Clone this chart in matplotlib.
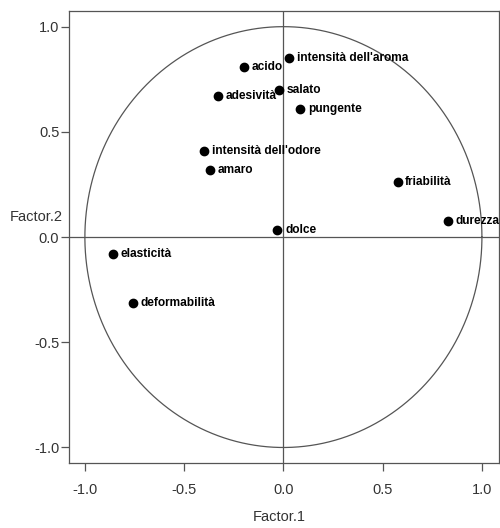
import numpy as np
import matplotlib
matplotlib.use("Agg")
import matplotlib.pyplot as plt

plt.rcParams['font.family'] = ['Liberation Sans', 'DejaVu Sans']

# loadings
labels = ["acido", "intensità dell'aroma", "salato", "adesività", "pungente",
          "intensità dell'odore", "amaro", "friabilità", "durezza", "dolce",
          "elasticità", "deformabilità"]
factor1 = [-0.20, 0.03, -0.02, -0.33, 0.085, -0.40, -0.37, 0.575, 0.83, -0.03,
           -0.86, -0.76]
factor2 = [0.81, 0.85, 0.70, 0.67, 0.61, 0.41, 0.32, 0.26, 0.075, 0.035,
           -0.08, -0.315]
ticks = [-1.0, -0.5, 0.0, 0.5, 1.0]

fig = plt.figure(figsize=(5.0, 5.28), dpi=100)
ax = fig.add_axes([0.138, 0.123, 0.860, 0.856])

line_col = '#555555'

# unit circle
t = np.linspace(0, 2 * np.pi, 400)
ax.plot(np.cos(t), np.sin(t), color=line_col, lw=0.9)
ax.axhline(0, color=line_col, lw=0.9)
ax.axvline(0, color=line_col, lw=0.9)

ax.scatter(factor1, factor2, s=36, color='black', zorder=3)
for x, y, lab in zip(factor1, factor2, labels):
    ax.annotate(lab, (x, y), xytext=(5.5, 0), textcoords='offset points',
                va='center', ha='left', fontsize=8.6, fontweight='bold',
                annotation_clip=False)

ax.set_xlim(-1.08, 1.086)
ax.set_ylim(-1.074, 1.074)
ax.set_xticks(ticks)
ax.set_yticks(ticks)
ax.set_xticklabels(["%.1f" % v for v in ticks])
ax.set_yticklabels(["%.1f" % v for v in ticks])
ax.tick_params(axis='both', colors=line_col, labelcolor='#333333',
               labelsize=10.5, length=6, width=0.9)
ax.tick_params(axis='x', pad=8)
ax.tick_params(axis='y', pad=1)

for sp in ax.spines.values():
    sp.set_color(line_col)
    sp.set_linewidth(0.9)

ax.set_xlabel("Factor.1", fontsize=10.5, color='#333333')
ax.xaxis.set_label_coords(0.49, -0.104)
ax.set_ylabel("Factor.2", fontsize=10.5, color='#333333', rotation=0,
              ha='center', va='center')
ax.yaxis.set_label_coords(-0.077, 0.544)

fig.savefig("out.png", dpi=100)
